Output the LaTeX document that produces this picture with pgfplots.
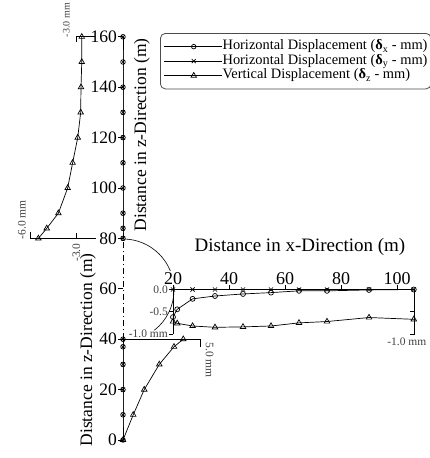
\documentclass[border=0pt]{standalone}
\usepackage{fontspec}
\setmainfont{Liberation Serif}
\usepackage{pgfplots}
\pgfplotsset{compat=1.18}
\begin{document}
\begin{tikzpicture}
\useasboundingbox (0,0) rectangle (429pt,458pt);
\pgfplotsset{/pgf/number format/assume math mode=true}
% ---------------- z-direction axis ----------------
\begin{axis}[name=zax, at={(30pt,18pt)}, anchor=south west, scale only axis,
  width=170.5pt, height=403.2pt,
  xmin=-6, xmax=5, ymin=0, ymax=160, clip=false,
  axis x line=none, axis y line=center, y axis line style={draw=none},
  hide obscured y ticks=false,
  ytick={0,20,...,160}, tick align=outside, major tick length=5pt,
  tick style={black, line width=0.8pt},
  yticklabel style={font=\fontsize{17.5}{17.5}\selectfont, inner sep=1pt},
  legend cell align=left,
  legend image code/.code={
    \draw[#1,mark=none] (0pt,0pt) -- (58pt,0pt);
    \draw[#1] plot coordinates {(30pt,0pt)};
  },
  legend style={at={(0.7625,1.0094)}, anchor=north west, draw=black!70,
    rounded corners=5pt, line width=0.8pt, inner xsep=3pt, inner ysep=6pt,
    font=\fontsize{14.4}{14.4}\selectfont,
    nodes={inner sep=0.5pt, text height=10pt, text depth=3.5pt}, row sep=0pt},
]
\addplot[black, line width=0.7pt, mark=o, mark size=2.3pt] coordinates
  {(0,80)(0,84)(0,90)(0,100)(0,110)(0,120)(0,130)(0,140)(0,150)(0,160)};
\addlegendentry{Horizontal Displacement (\textbf{δ}\textsubscript{x} - mm)}
\addplot[black, line width=0.7pt, mark=x, mark size=2.8pt] coordinates
  {(0,80)(0,84)(0,90)(0,100)(0,110)(0,120)(0,130)(0,140)(0,150)(0,160)};
\addlegendentry{Horizontal Displacement (\textbf{δ}\textsubscript{y} - mm)}
\addplot[black, line width=0.7pt, mark=triangle, mark size=3.2pt] coordinates
  {(-5.46,80)(-4.92,84)(-4.17,90)(-3.57,100)(-3.25,110)(-2.92,120)(-2.73,130)(-2.71,140)(-2.66,150)(-2.66,160)};
\addlegendentry{Vertical Displacement (\textbf{δ}\textsubscript{z} - mm)}
% lower part
\addplot[black, line width=0.7pt, mark=o, mark size=2.3pt, forget plot] coordinates
  {(0,0)(0,10)(0,20)(0,30)(0,37)(0,40)};
\addplot[black, line width=0.7pt, mark=x, mark size=2.8pt, forget plot] coordinates
  {(0,0)(0,10)(0,20)(0,30)(0,37)(0,40)};
\addplot[black, line width=0.7pt, mark=triangle, mark size=3.2pt, forget plot] coordinates
  {(0,0)(0.66,10)(1.37,20)(2.34,30)(3.29,37)(3.89,40)};
% dash-dot connection
\draw[black, line width=0.7pt, dash pattern=on 6pt off 3pt on 1pt off 3pt] (axis cs:0,40) -- (axis cs:0,80);
% upper scale at z=80
\draw[black, line width=0.6pt] (axis cs:-6,82.5) -- (axis cs:-6,80) -- (axis cs:-1.75,80);
\draw[black, line width=0.6pt] (axis cs:-3,80) -- (axis cs:-3,82);
\node[rotate=90, anchor=east, font=\fontsize{11.5}{11.5}\selectfont, text=black!75, inner sep=1pt] at ([yshift=-4pt]axis cs:-3,80) {-3.0};
\node[rotate=90, anchor=south west, font=\fontsize{11.5}{11.5}\selectfont, text=black!75, inner sep=1pt] at ([xshift=-3pt,yshift=-2pt]axis cs:-6,80) {-6.0 mm};
% top scale at z=160
\draw[black, line width=0.6pt] (axis cs:-3,158) -- (axis cs:-3,160) -- (axis cs:-1.8,160);
\node[rotate=90, anchor=south west, font=\fontsize{10}{10}\selectfont, text=black!75, inner sep=0.5pt] at ([xshift=-6pt,yshift=-1pt]axis cs:-3,160) {-3.0 mm};
% lower scale at z=40
\draw[black, line width=0.6pt] (axis cs:0,40) -- (axis cs:5,40) -- (axis cs:5,37);
\node[rotate=-90, anchor=south west, font=\fontsize{11.5}{11.5}\selectfont, text=black!75, inner sep=1pt] at ([xshift=4pt,yshift=-2pt]axis cs:5,40) {5.0 mm};
\end{axis}
% rotation arc
\draw[black, line width=0.6pt] (123pt,219pt) arc[start angle=90, end angle=-52, radius=51pt];
% ---------------- x-direction axis ----------------
\begin{axis}[at={(173pt,124pt)}, anchor=south west, scale only axis,
  width=240.8pt, height=44.5pt,
  xmin=20, xmax=106, ymin=-1, ymax=0, clip=false,
  axis x line*=top, axis y line*=left, axis line style={line width=0.8pt,-},
  xtick={20,40,...,100}, ytick={-1,-0.5,0}, yticklabels={{-1.0 mm},{-0.5},{0.0}},
  tick align=outside, major tick length=4pt, tick style={black, line width=0.8pt},
  xticklabel style={font=\fontsize{18}{18}\selectfont, inner sep=1pt, fill=white},
  yticklabel style={font=\fontsize{11.5}{11.5}\selectfont, text=black!75, inner sep=1pt},
]
\addplot[black, line width=0.7pt, mark=o, mark size=2.5pt] coordinates
  {(20,-0.62)(21.5,-0.445)(27,-0.21)(35,-0.146)(45,-0.10)(55,-0.07)(65,-0.03)(75,-0.03)(90,-0.01)(106,0)};
\addplot[black, line width=0.7pt, mark=x, mark size=3pt] coordinates
  {(20,0)(27,0)(35,0)(45,0)(55,0)(65,0)(75,0)(90,0)(106,0)};
\addplot[black, line width=0.7pt, mark=triangle, mark size=3.2pt] coordinates
  {(20,-0.72)(21.5,-0.76)(27,-0.82)(35,-0.85)(45,-0.84)(55,-0.82)(65,-0.75)(75,-0.72)(90,-0.63)(106,-0.67)};
\draw[black, line width=0.6pt] (axis cs:106,0) -- (axis cs:106,-1) -- (axis cs:104.5,-1);
\draw[black, line width=0.6pt] (axis cs:106,-0.5) -- (axis cs:104.5,-0.5);
\node[anchor=north, font=\fontsize{11.5}{11.5}\selectfont, text=black!75, inner sep=1pt] at ([xshift=-7pt,yshift=-3pt]axis cs:106,-1) {-1.0 mm};
\end{axis}
% titles
\node[font=\fontsize{19}{19}\selectfont] at (300pt,211pt) {Distance in x-Direction (m)};
\node[rotate=90, font=\fontsize{17.5}{17.5}\selectfont] at (142pt,323pt) {Distance in z-Direction (m)};
\node[rotate=90, font=\fontsize{17.5}{17.5}\selectfont] at (88pt,108pt) {Distance in z-Direction (m)};
\end{tikzpicture}
\end{document}
